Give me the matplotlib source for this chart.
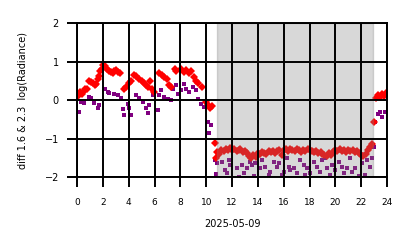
import matplotlib
matplotlib.use("Agg")
import matplotlib.pyplot as plt

# hours of 2025-05-09
red_t = [0.05, 0.20, 0.35, 0.50, 0.65, 0.80, 0.95, 1.10, 1.25, 1.40, 1.50, 1.60, 1.70, 1.80, 1.90,
         2.00, 2.15, 2.30, 2.45, 2.60, 2.75, 2.90, 3.05, 3.20, 3.35, 3.65, 3.80, 4.00, 4.15, 4.45,
         4.60, 4.80, 5.00, 5.20, 5.35, 5.50, 5.65, 5.80, 5.95, 6.35, 6.55, 6.75, 6.95, 7.10, 7.30,
         7.55, 7.70, 8.05, 8.25, 8.45, 8.65, 8.85, 9.05, 9.20, 9.40, 9.65, 10.00, 10.15, 10.30,
         10.45, 10.65, 10.75,
         10.85, 11.0, 11.15, 11.35, 11.5, 11.65, 11.85, 12.0, 12.15, 12.35, 12.5, 12.65, 12.85,
         13.0, 13.15, 13.35, 13.5, 13.65, 13.85, 14.0, 14.15, 14.35, 14.5, 14.65, 14.85, 15.0,
         15.15, 15.35, 15.5, 15.65, 15.85, 16.0, 16.15, 16.35, 16.5, 16.65, 16.85, 17.0, 17.15,
         17.35, 17.5, 17.65, 17.85, 18.0, 18.15, 18.35, 18.5, 18.65, 18.85, 19.0, 19.15, 19.35,
         19.5, 19.65, 19.85, 20.0, 20.15, 20.35, 20.5, 20.65, 20.85, 21.0, 21.15, 21.35, 21.5,
         21.65, 21.85, 22.0, 22.15, 22.35, 22.5, 22.65, 22.8, 22.95, 23.15, 23.3, 23.45, 23.6,
         23.75, 23.9]
red_v = [0.10, 0.20, 0.15, 0.22, 0.28, 0.30, 0.50, 0.48, 0.45, 0.40, 0.42, 0.55, 0.62, 0.75, 0.80,
         0.90, 0.88, 0.80, 0.75, 0.72, 0.70, 0.75, 0.78, 0.72, 0.70, 0.30, 0.35, 0.45, 0.50, 0.65,
         0.62, 0.55, 0.50, 0.45, 0.40, 0.35, 0.50, 0.30, 0.20, 0.70, 0.65, 0.60, 0.55, 0.40, 0.35,
         0.80, 0.75, 0.80, 0.72, 0.78, 0.70, 0.75, 0.60, 0.50, 0.45, 0.35, -0.05, -0.12, -0.20,
         -0.15, -1.12, -1.50,
         -1.35, -1.40, -1.30, -1.32, -1.28, -1.30, -1.25, -1.30, -1.27, -1.32, -1.30, -1.28, -1.35,
         -1.32, -1.38, -1.45, -1.50, -1.42, -1.48, -1.38, -1.40, -1.35, -1.37, -1.40, -1.33, -1.35,
         -1.32, -1.38, -1.33, -1.30, -1.42, -1.30, -1.28, -1.32, -1.27, -1.30, -1.33, -1.28, -1.30,
         -1.35, -1.30, -1.32, -1.28, -1.30, -1.33, -1.35, -1.32, -1.38, -1.35, -1.40, -1.42, -1.45,
         -1.38, -1.42, -1.35, -1.30, -1.33, -1.28, -1.32, -1.30, -1.35, -1.30, -1.33, -1.30, -1.35,
         -1.32, -1.38, -1.42, -1.45, -1.40, -1.30, -1.22, -1.15, -0.56, 0.05, 0.12, 0.08, 0.15,
         0.10, 0.18]

purple_t = [0.13, 0.31, 0.57, 0.95, 1.08, 1.34, 1.60, 1.73, 2.19, 2.38, 2.50, 2.89, 3.15, 3.41,
            3.54, 3.66, 3.92, 4.05, 4.18, 4.57, 4.82, 5.09, 5.34, 5.47, 5.60, 5.86, 6.25, 6.37,
            6.50, 6.76, 7.02, 7.28, 7.41, 7.66, 7.79, 8.05, 8.30, 8.44, 8.69, 8.96, 9.21, 9.34,
            9.60, 9.85, 10.12, 10.24, 10.37, 10.66, 10.76,
            10.84, 11.22, 11.48, 11.61, 11.74, 11.87, 12.38, 12.52, 12.77, 12.90, 13.16, 13.41,
            13.54, 13.68, 13.80, 14.19, 14.32, 14.57, 14.84, 14.96, 15.22, 15.48, 15.61, 15.87,
            16.00, 16.25, 16.39, 16.51, 16.77, 17.03, 17.28, 17.55, 17.67, 17.80, 18.06, 18.32,
            18.58, 18.83, 18.96, 19.22, 19.35, 19.61, 19.74, 19.99, 20.26, 20.51, 20.64, 20.90,
            21.15, 21.28, 21.54, 21.80, 22.06, 22.31, 22.45, 22.70, 22.83, 22.96,
            23.07, 23.27, 23.45, 23.61, 23.84]
purple_v = [-0.30, -0.05, -0.08, 0.08, 0.05, -0.08, -0.20, -0.13, 0.30, 0.22, 0.18, 0.17, 0.13, 0.05,
            -0.22, -0.38, -0.09, -0.20, -0.38, 0.13, 0.05, -0.05, -0.20, -0.33, -0.13, 0.13, -0.26, 0.13,
            0.26, 0.09, 0.04, 0.00, 0.30, 0.39, 0.17, 0.26, 0.43, 0.30, 0.22, 0.35, 0.26, 0.04,
            -0.09, -0.17, -0.56, -0.86, -0.65, -1.55, -1.92,
            -1.64, -1.60, -1.81, -1.90, -1.55, -1.68, -1.77, -1.99, -1.68, -1.90, -1.77, -1.60,
            -1.68, -1.98, -1.64, -1.77, -1.55, -1.73, -1.94, -1.86, -1.60, -1.73, -1.64, -1.94,
            -1.86, -1.51, -1.73, -1.81, -1.77, -1.90, -1.55, -1.68, -1.94, -1.77, -1.90, -1.60,
            -1.73, -1.86, -1.55, -1.51, -1.77, -1.94, -1.68, -1.81, -1.60, -1.73, -1.90, -1.77,
            -1.51, -1.86, -1.77, -1.98, -1.64, -1.94, -1.55, -1.73, -1.51, -1.21,
            -0.56, -0.35, -0.30, -0.43, -0.32]

shade_start, shade_end = 10.85, 22.9
xticks = [0, 2, 4, 6, 8, 10, 12, 14, 16, 18, 20, 22, 24]
yticks = [-2, -1, 0, 1, 2]

fig = plt.figure(figsize=(4.14, 2.48), dpi=100)
ax = fig.add_axes([0.186, 0.286, 0.749, 0.621])

ax.plot(purple_t, purple_v, ls='none', marker='s', ms=2.5, mew=0, color='purple', zorder=2)
ax.plot(red_t, red_v, ls='none', marker='D', ms=3.7, mew=0, color='red', zorder=2)
ax.axvspan(shade_start, shade_end, color='gray', alpha=0.3, zorder=2.2)

ax.set_xlim(0, 24)
ax.set_ylim(-2, 2)
ax.set_xticks(xticks)
ax.set_yticks(yticks)
ax.set_axisbelow(False)
ax.grid(True, color='black', lw=1.4)
for s in ax.spines.values():
    s.set_color('black')
    s.set_linewidth(1.4)
ax.tick_params(axis='both', length=7, width=1.4, color='black', labelsize=7, pad=6)
ax.tick_params(axis='x', labelsize=6.5, pad=8)
ax.set_xlabel('2025-05-09', fontsize=7, labelpad=9)
ax.set_ylabel('diff 1.6 & 2.3  log(Radiance)', fontsize=7, labelpad=12)

fig.savefig('out.png', dpi=100)
